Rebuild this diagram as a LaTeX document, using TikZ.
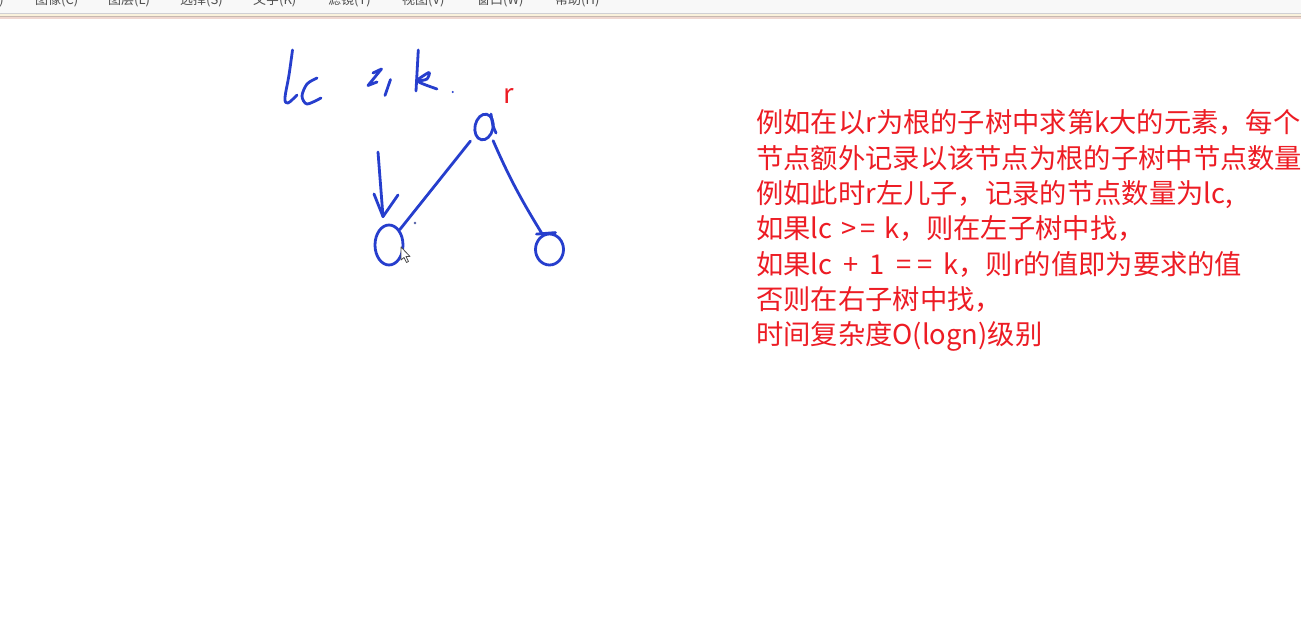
\documentclass[tikz,border=0pt]{standalone}
\usepackage{fontspec}
\newfontfamily\cjk{Noto Sans CJK SC}
\usetikzlibrary{shapes.geometric,arrows.meta}
\definecolor{inkblue}{RGB}{38,62,205}
\definecolor{txtred}{RGB}{237,28,36}
\definecolor{menubg}{RGB}{248,248,248}
\definecolor{menuline}{RGB}{208,208,212}
\definecolor{menucream}{RGB}{250,242,220}
\definecolor{menubrown}{RGB}{200,185,175}
\definecolor{menupink}{RGB}{240,215,208}
\definecolor{menutext}{RGB}{80,80,80}
\tikzset{
  ink/.style={draw=inkblue, line width=2.8pt, line cap=round, line join=round},
  inkell/.style={ellipse, draw=inkblue, line width=2.8pt, inner sep=0pt},
  menu/.style={font=\cjk\fontsize{13}{15}\selectfont, text=menutext, inner sep=0pt, anchor=base west},
  note/.style={font=\cjk\fontsize{27.3}{32}\selectfont, text=txtred, inner sep=0pt, anchor=base west},
}
\newcommand{\gp}{\kern2.5pt}
\newcommand{\gq}{\kern5pt}
\begin{document}
\begin{tikzpicture}[x=1pt,y=-1pt]
\useasboundingbox (0,0) rectangle (1301,620);
\clip (0,0) rectangle (1301,620);
\fill[white] (0,0) rectangle (1301,620);
% menu bar
\fill[menubg] (0,0) rectangle (1301,13);
\fill[menuline] (0,12.7) rectangle (1301,14);
\fill[menucream] (0,14) rectangle (1301,16);
\fill[menubrown] (0,16) rectangle (1301,17.3);
\fill[menupink] (0,17.3) rectangle (1301,19.3);
\begin{scope}
\clip (0,0) rectangle (1301,12.5);
\node[menu, anchor=base east] (m0) at (4,5) {编辑(E)};
\node[menu] (m1) at (35,5) {图像(C)};
\node[menu] (m2) at (108,5) {图层(L)};
\node[menu] (m3) at (180,5) {选择(S)};
\node[menu] (m4) at (253,5) {文字(K)};
\node[menu] (m5) at (328,5) {滤镜(T)};
\node[menu] (m6) at (402,5) {视图(V)};
\node[menu] (m7) at (477,5) {窗口(W)};
\node[menu] (m8) at (555,5) {帮助(H)};
\end{scope}
% handwriting "lc >= k."
\draw[ink] plot[smooth, tension=0.6] coordinates {(292.5,50) (289,75) (285,98) (288,103) (297,95)};
\draw[ink] plot[smooth] coordinates {(317,78) (307,84) (302,96) (307,104) (321,98)};
\draw[ink] (373,73) -- (381.5,69) -- (368,85.5) -- (377,82);
\draw[ink] (390.5,79.5) -- (385,95.5);
\draw[ink] (418.3,50) -- (416,91);
\draw[ink] plot[smooth] coordinates {(417,80) (429,72.5) (427,79) (419,82) (437,89)};
\fill[inkblue] (452.7,92) circle (1.2);
% tree
\node[inkell, minimum width=18, minimum height=26, rotate=-12] (root) at (484,127) {};
\draw[ink] (491,114) .. controls (492.5,125) .. (496,133);
\node[font=\cjk\fontsize{27}{32}\selectfont, text=txtred, inner sep=0pt] (rlabel) at (509,96) {r};
\node[inkell, minimum width=28, minimum height=40] (lc) at (389,245) {};
\node[inkell, minimum width=28, minimum height=31] (rc) at (549.5,249.5) {};
\draw[ink] ([shift={(-13,1.5)}]rc.north) -- ([shift={(6,0)}]rc.north);
\draw[ink, shorten <=7pt] (root.235) -- (lc.55);
\draw[ink, shorten <=5pt] (root.-40) to[bend right=4] (rc.115);
\coordinate (atail) at (378,152);
\coordinate (ahead) at ([shift={(-6,-7)}]lc.north);
\draw[ink] (atail) -- (ahead);
\draw[ink] (374,194) -- (ahead) -- (398,195);
\fill[inkblue!50!gray] (415,223) circle (1.3);
% mouse cursor
\filldraw[fill=white, draw=gray!60!black, line width=0.8pt, line join=round] (401,247) -- (401,260) -- (404,257.5) -- (406.5,262.5) -- (408.5,261.5) -- (406,256.5) -- (410,256.5) -- cycle;
% notes
\node[note] (t1) at (756,133) {例如在以r为根的子树中求第k大的元素，每个};
\node[note] (t2) at (756,168.3) {节点额外记录以该节点为根的子树中节点数量};
\node[note] (t3) at (756,203.6) {例如此时r左儿子，记录的节点数量为lc,};
\node[note] (t4) at (756,238.9) {如果lc\gp{} >\kern4pt=\gp{} k，则在左子树中找，};
\node[note] (t5) at (756,274.2) {如果lc\gq{} +\gq{} 1\gq{} =\kern6pt=\gq{} k，则r的值即为要求的值};
\node[note] (t6) at (756,309.5) {否则在右子树中找，};
\node[note] (t7) at (756,344.8) {时间复杂度O(logn)级别};
\end{tikzpicture}
\end{document}
